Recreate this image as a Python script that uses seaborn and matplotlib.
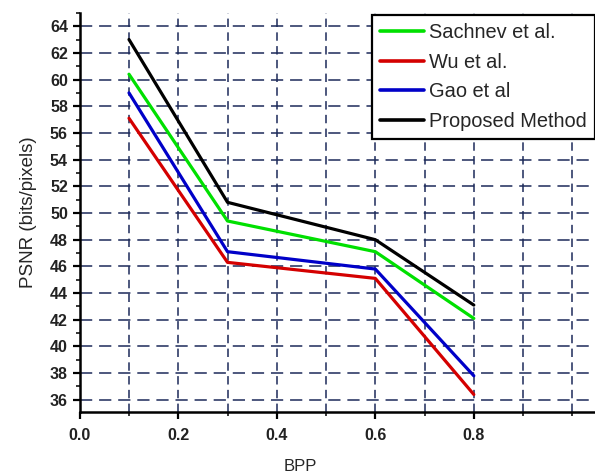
import matplotlib
matplotlib.use("Agg")
import matplotlib.pyplot as plt
from matplotlib.ticker import MultipleLocator
import seaborn as sns
import pandas as pd

bpp = [0.1, 0.3, 0.6, 0.8]
sachnev = [60.4, 49.4, 47.1, 42.1]
wu = [57.1, 46.3, 45.1, 36.4]
gao = [59.0, 47.1, 45.8, 37.8]
proposed = [63.0, 50.8, 48.0, 43.1]

methods = ["Sachnev et al.", "Wu et al.", "Gao et al", "Proposed Method"]
colors = ["#00e000", "#d40000", "#0000c8", "#000000"]

df = pd.DataFrame({
    "BPP": bpp * 4,
    "PSNR": sachnev + wu + gao + proposed,
    "Method": [m for m in methods for _ in bpp],
})

sns.set_style("white")
plt.rcParams["font.family"] = ["Liberation Sans", "DejaVu Sans"]

fig = plt.figure(figsize=(5.95, 4.75), dpi=100)
ax = fig.add_axes([0.134, 0.133, 0.866, 0.84])

sns.lineplot(data=df, x="BPP", y="PSNR", hue="Method", hue_order=methods,
             palette=colors, linewidth=2.3, ax=ax, legend=False, zorder=3)

ax.set_xlim(0, 1.046)
ax.set_ylim(35.1, 65.0)
ax.xaxis.set_major_locator(MultipleLocator(0.2))
ax.xaxis.set_minor_locator(MultipleLocator(0.1))
ax.yaxis.set_major_locator(MultipleLocator(2))
ax.yaxis.set_minor_locator(MultipleLocator(1))
ax.set_xticks([0.0, 0.2, 0.4, 0.6, 0.8])

grid_color = "#1c2a5a"
ax.grid(True, which="both", axis="x", color=grid_color,
        linestyle=(0, (5.5, 3.5)), linewidth=1.1)
ax.grid(True, which="major", axis="y", color=grid_color,
        linestyle=(0, (8, 4.5)), linewidth=1.1)
ax.set_axisbelow(True)

for side in ["top", "right"]:
    ax.spines[side].set_visible(False)
for side in ["left", "bottom"]:
    ax.spines[side].set_linewidth(1.8)
    ax.spines[side].set_color("black")

ax.tick_params(which="major", direction="out", length=5, width=1.6,
               labelsize=11.5, left=True, bottom=True, colors="black")
ax.tick_params(which="minor", direction="out", length=3, width=1.3,
               left=True, bottom=True)
for lab in ax.get_xticklabels() + ax.get_yticklabels():
    lab.set_fontweight("bold")
    lab.set_color("#222222")
ax.tick_params(axis="x", which="major", pad=7)

ax.set_xlabel("BPP", fontsize=12)
ax.xaxis.set_label_coords((300 - 80) / 515.0, -(459 - 412) / 399.0)
ax.set_ylabel("PSNR (bits/pixels)", fontsize=13.5, labelpad=9)

handles = [plt.Line2D([0], [0], color=c, lw=2.6) for c in colors]
leg = fig.legend(handles, methods, loc="upper left",
                 bbox_to_anchor=(0.625, 0.969),
                 prop={"size": 14.4},
                 frameon=True, fancybox=False, framealpha=1,
                 edgecolor="black", borderpad=0.42, labelspacing=0.53,
                 handlelength=2.2, handletextpad=0.25, borderaxespad=0)
leg.get_frame().set_linewidth(1.6)

fig.savefig("out.png", dpi=100)
